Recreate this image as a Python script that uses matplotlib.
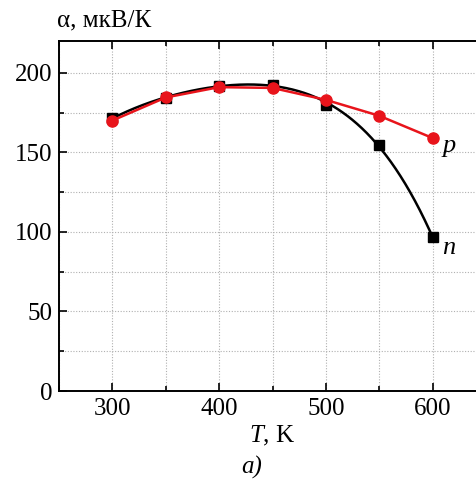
import numpy as np
import matplotlib.pyplot as plt
from matplotlib.ticker import MultipleLocator

plt.rcParams['font.family'] = ['Liberation Serif', 'DejaVu Serif']
plt.rcParams['mathtext.fontset'] = 'custom'
plt.rcParams['mathtext.rm'] = 'Liberation Serif'
plt.rcParams['mathtext.it'] = 'Liberation Serif:italic'

# temperature, K
T = [300, 350, 400, 450, 500, 550, 600]
# Seebeck coefficient, uV/K
alpha_p = [170, 184.5, 191, 190.5, 183, 173, 159]
alpha_n = [171.5, 184, 192, 192.5, 180, 154.5, 96.5]

fig = plt.figure(figsize=(4.77, 4.82), dpi=100)
ax = fig.add_axes([59 / 477, 91 / 482, 427 / 477, 350 / 482])

# n-type: smooth fit curve through the points
coef = np.polyfit(T, alpha_n, 4)
tt = np.linspace(300, 600, 200)
ax.plot(tt, np.polyval(coef, tt), color='black', lw=1.8, zorder=3)
ax.plot(T, alpha_n, 's', color='black', ms=6.5, zorder=4)

# p-type
ax.plot(T, alpha_p, '-o', color='#e8141b', lw=1.8, ms=8, zorder=5)

ax.set_xlim(250, 650)
ax.set_ylim(0, 220)
ax.xaxis.set_major_locator(MultipleLocator(100))
ax.xaxis.set_minor_locator(MultipleLocator(50))
ax.yaxis.set_major_locator(MultipleLocator(50))
ax.yaxis.set_minor_locator(MultipleLocator(25))
ax.grid(True, which='both', ls=(0, (1, 1.5)), color='#b0b0b0', lw=0.8)
ax.tick_params(which='both', direction='in', top=True, right=True, labelsize=18, width=1.2)
ax.tick_params(which='major', length=6, pad=5)
ax.tick_params(which='minor', length=3.5)
for s in ax.spines.values():
    s.set_linewidth(1.4)

ax.set_xlabel('$T$, K', fontsize=18, labelpad=3)
fig.text(57 / 477, 1 - 20 / 482, 'α, мкВ/К', fontsize=18, ha='left', va='center')

ax.text(609, 154, 'p', style='italic', fontsize=19, va='center', ha='left')
ax.text(609, 90, 'n', style='italic', fontsize=19, va='center', ha='left')
fig.text(252 / 477, 1 - 467 / 482, 'a)', style='italic', fontsize=18, ha='center', va='center')

fig.savefig('out.png', dpi=100)
